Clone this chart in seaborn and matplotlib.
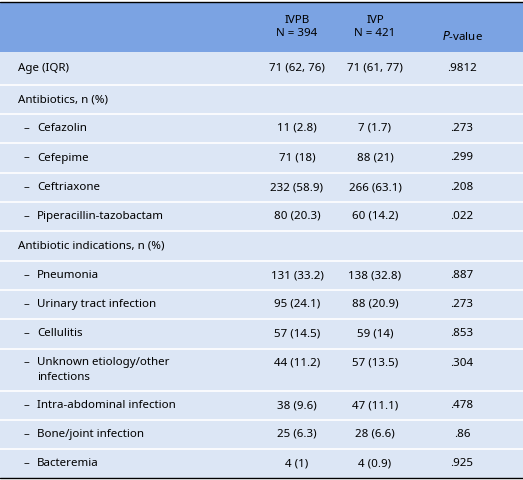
import matplotlib
matplotlib.use("Agg")
import matplotlib.pyplot as plt
import seaborn as sns

sns.set_theme(style="white")
plt.rcParams['font.family'] = ['Noto Sans', 'DejaVu Sans']
plt.rcParams['text.color'] = 'black'

labels = ["Age (IQR)", "Antibiotics, n (%)", "Cefazolin", "Cefepime", "Ceftriaxone",
          "Piperacillin-tazobactam", "Antibiotic indications, n (%)", "Pneumonia",
          "Urinary tract infection", "Cellulitis", "Unknown etiology/other\ninfections",
          "Intra-abdominal infection", "Bone/joint infection", "Bacteremia"]
is_sub = [False, False, True, True, True, True, False, True, True, True, True, True, True, True]
ivpb = ["71 (62, 76)", "", "11 (2.8)", "71 (18)", "232 (58.9)", "80 (20.3)", "",
        "131 (33.2)", "95 (24.1)", "57 (14.5)", "44 (11.2)", "38 (9.6)", "25 (6.3)", "4 (1)"]
ivp = ["71 (61, 77)", "", "7 (1.7)", "88 (21)", "266 (63.1)", "60 (14.2)", "",
       "138 (32.8)", "88 (20.9)", "59 (14)", "57 (13.5)", "47 (11.1)", "28 (6.6)", "4 (0.9)"]
pval = [".9812", "", ".273", ".299", ".208", ".022", "", ".887", ".273", ".853",
        ".304", ".478", ".86", ".925"]
row_edges = [52, 85, 114, 143, 173, 202, 231, 261, 290, 319, 349, 391, 420, 449, 478]

W, H = 523, 480
fig = plt.figure(figsize=(W/100, H/100), dpi=100)
ax = fig.add_axes([0, 0, 1, 1])
ax.set_xlim(0, W); ax.set_ylim(H, 0); ax.axis('off')

hdr = "#7BA3E3"; body = "#DCE6F5"
ax.add_patch(plt.Rectangle((0, 2), W, 50, color=hdr, lw=0))
ax.add_patch(plt.Rectangle((0, 52), W, 478-52, color=body, lw=0))
for y in row_edges[1:-1]:
    ax.plot([0, W], [y, y], color="white", lw=1.2)
ax.plot([0, W], [2, 2], color="black", lw=1)
ax.plot([0, W], [478, 478], color="black", lw=1)

fs = 8.3
cx = [297, 375, 462]
ax.text(cx[0], 27, "IVPB\nN = 394", ha="center", va="center", fontsize=fs, linespacing=1.3)
ax.text(cx[1], 27, "IVP\nN = 421", ha="center", va="center", fontsize=fs, linespacing=1.3)
ax.text(cx[2], 36, "$\\it{P}$-value", ha="center", va="center", fontsize=fs)

for i, lab in enumerate(labels):
    y0, y1 = row_edges[i], row_edges[i+1]
    yc = (y0 + y1) / 2
    two = "\n" in lab
    if is_sub[i]:
        ax.text(24, y0 + 14 if two else yc, "–", ha="left", va="center", fontsize=fs)
        ax.text(37, yc, lab, ha="left", va="center", fontsize=fs, linespacing=1.4)
    else:
        ax.text(18, yc, lab, ha="left", va="center", fontsize=fs)
    yv = y0 + 14 if two else yc
    for c, col in zip(cx, [ivpb, ivp, pval]):
        ax.text(c, yv, col[i], ha="center", va="center", fontsize=fs)

fig.savefig("out.png", dpi=100)
